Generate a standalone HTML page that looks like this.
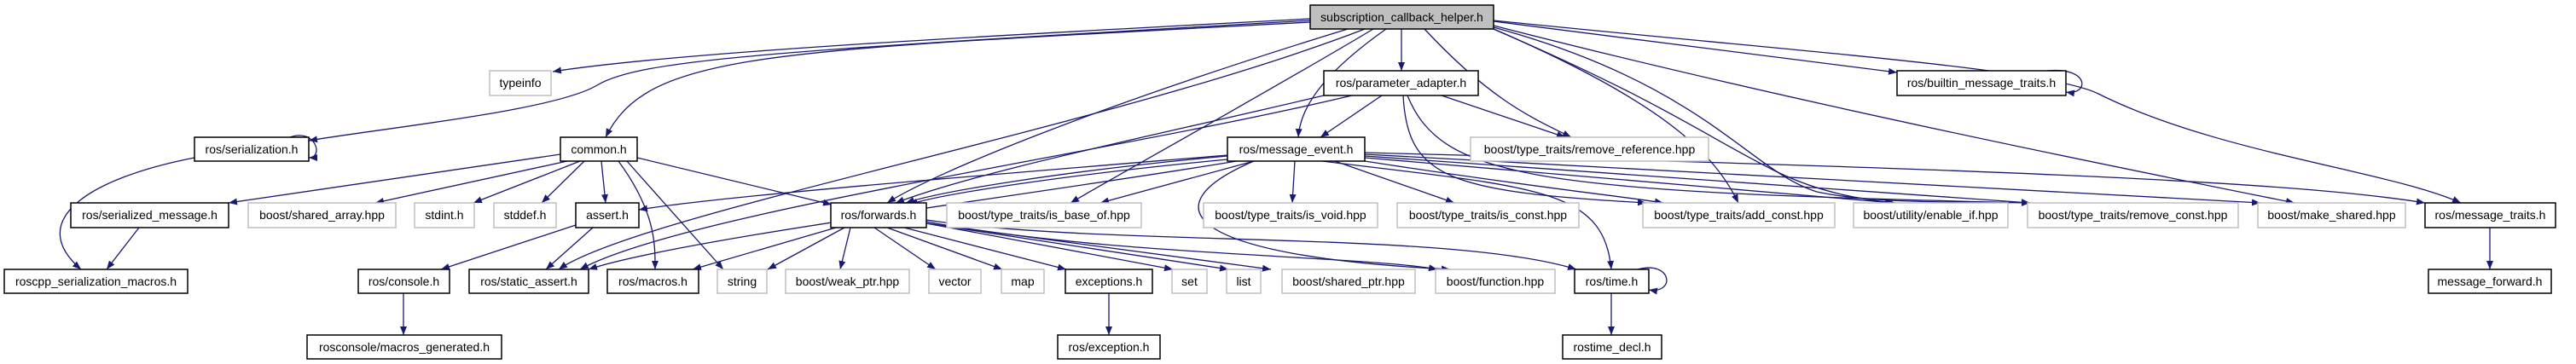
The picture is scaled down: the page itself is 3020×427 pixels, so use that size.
<!DOCTYPE html>
<html><head><meta charset="utf-8"><style>
html,body{margin:0;padding:0;background:#fff;}
svg{display:block;}
text{font-family:"Liberation Sans",sans-serif;font-size:14px;fill:#000;}
.e{fill:none;stroke:#191970;stroke-width:1.3;}
.n{fill:#fff;stroke:#000;stroke-width:1.5;}
.g{fill:#fff;stroke:#bfbfbf;stroke-width:1.5;}
</style></head><body>
<svg width="3020" height="427" viewBox="0 0 3020 427" xmlns="http://www.w3.org/2000/svg">
<defs><marker id="a" viewBox="0 0 10 10" refX="10" refY="5" markerWidth="10" markerHeight="10" markerUnits="userSpaceOnUse" orient="auto"><path d="M0,1 L10,5 L0,9 z" fill="#191970"/></marker></defs>
<g marker-end="url(#a)">
<!-- from S -->
<path class="e" d="M1536,22 C1200,40 800,60 648,84"/>
<path class="e" d="M1536,24 C900,60 750,70 700,100 C650,130 450,150 362,165"/>
<path class="e" d="M1536,26 C900,60 760,60 710,161"/>
<path class="e" d="M1580,34 C1300,120 1100,200 1040,238"/>
<path class="e" d="M1610,34 C1500,100 1320,200 1255,238"/>
<path class="e" d="M1600,34 C1300,150 750,250 655,316"/>
<path class="e" d="M1643,34 L1643,83"/>
<path class="e" d="M1625,34 C1560,80 1525,120 1522,161"/>
<path class="e" d="M1670,34 C1750,120 1800,140 1842,161"/>
<path class="e" d="M1751,25 C1950,50 2100,70 2224,85"/>
<path class="e" d="M1751,24 C2100,60 2400,80 2460,110 C2600,180 2800,200 2885,238"/>
<path class="e" d="M1751,30 C2100,120 2500,200 2690,238"/>
<path class="e" d="M1751,32 C2000,100 2050,200 2130,225 C2200,240 2300,236 2380,238"/>
<path class="e" d="M1751,34 C1950,120 2000,160 2080,200 C2140,230 2200,236 2222,238"/>
<path class="e" d="M1751,34 C1950,120 2010,180 2038,238"/>
<!-- PA -->
<path class="e" d="M1620,112 L1548,161"/>
<path class="e" d="M1552,112 C1350,160 1150,200 1050,238"/>
<path class="e" d="M1585,112 C1300,180 800,250 680,316"/>
<path class="e" d="M1690,112 L1835,161"/>
<path class="e" d="M1645,112 C1650,210 1700,225 1930,238"/>
<path class="e" d="M1650,112 C1690,210 1800,225 2380,238"/>
<!-- ME -->
<path class="e" d="M1439,183 C1250,200 1100,225 1062,238"/>
<path class="e" d="M1439,187 C1250,205 1100,228 1066,240"/>
<path class="e" d="M1439,182 C1100,210 850,230 749,246"/>
<path class="e" d="M1450,189 C1200,230 800,280 690,316"/>
<path class="e" d="M1470,189 L1290,238"/>
<path class="e" d="M1518,189 L1515,238"/>
<path class="e" d="M1565,189 L1705,238"/>
<path class="e" d="M1600,189 C1800,220 1900,230 1950,238"/>
<path class="e" d="M1600,185 L2220,238"/>
<path class="e" d="M1600,183 L2380,238"/>
<path class="e" d="M1600,181 L2650,238"/>
<path class="e" d="M1600,179 C2400,200 2700,215 2843,238"/>
<path class="e" d="M1470,189 C1350,240 1380,300 1700,316"/>
<path class="e" d="M1550,189 C1800,220 1880,220 1889,316"/>
<!-- common -->
<path class="e" d="M657,181 L268,238"/>
<path class="e" d="M665,189 L440,238"/>
<path class="e" d="M680,189 L555,238"/>
<path class="e" d="M685,189 L635,238"/>
<path class="e" d="M705,189 L710,238"/>
<path class="e" d="M747,185 L975,240"/>
<path class="e" d="M725,189 C770,250 768,290 768,316"/>
<path class="e" d="M735,189 L848,316"/>
<!-- serialization -->
<path class="e" d="M340,161 C370,150 380,185 362,185"/>
<path class="e" d="M228,185 C100,210 30,260 95,316"/>
<path class="e" d="M163,267 L125,316"/>
<path class="e" d="M675,264 L517,316"/>
<path class="e" d="M695,267 L640,316"/>
<path class="e" d="M473,344 L473,393"/>
<!-- forwards -->
<path class="e" d="M980,267 L812,316"/>
<path class="e" d="M990,267 L900,316"/>
<path class="e" d="M997,267 L985,316"/>
<path class="e" d="M1025,267 L1097,316"/>
<path class="e" d="M1040,267 L1175,316"/>
<path class="e" d="M1060,267 L1250,316"/>
<path class="e" d="M1086,262 L1375,316"/>
<path class="e" d="M1086,262 L1440,316"/>
<path class="e" d="M1086,262 L1490,316"/>
<path class="e" d="M1086,260 C1300,300 1600,300 1685,316"/>
<path class="e" d="M1086,258 C1300,290 1700,270 1848,316"/>
<path class="e" d="M1300,344 L1300,393"/>
<path class="e" d="M1889,344 L1889,393"/>
<path class="e" d="M1920,316 C1960,305 1965,345 1933,340"/>
<path class="e" d="M2400,83 C2450,78 2450,112 2422,108"/>
<path class="e" d="M2919,267 L2919,316"/>
</g>
<g>
<rect x="1536" y="6" width="215" height="28" fill="#bfbfbf" stroke="#000" stroke-width="1.5"/><text x="1643.5" y="25" text-anchor="middle">subscription_callback_helper.h</text>
<rect class="g" x="574" y="83" width="72" height="29"/><text x="610" y="102" text-anchor="middle">typeinfo</text>
<rect class="n" x="1552" y="83" width="181" height="29"/><text x="1642.5" y="102" text-anchor="middle">ros/parameter_adapter.h</text>
<rect class="n" x="2224" y="83" width="198" height="29"/><text x="2323" y="102" text-anchor="middle">ros/builtin_message_traits.h</text>
<rect class="n" x="228" y="161" width="134" height="28"/><text x="295" y="180" text-anchor="middle">ros/serialization.h</text>
<rect class="n" x="657" y="161" width="90" height="28"/><text x="702" y="180" text-anchor="middle">common.h</text>
<rect class="n" x="1439" y="161" width="161" height="28"/><text x="1519.5" y="180" text-anchor="middle">ros/message_event.h</text>
<rect class="g" x="1724" y="161" width="279" height="28"/><text x="1863.5" y="180" text-anchor="middle">boost/type_traits/remove_reference.hpp</text>
<rect class="n" x="83" y="238" width="185" height="29"/><text x="175.5" y="257" text-anchor="middle">ros/serialized_message.h</text>
<rect class="g" x="291" y="238" width="173" height="29"/><text x="377.5" y="257" text-anchor="middle">boost/shared_array.hpp</text>
<rect class="g" x="486" y="238" width="70" height="29"/><text x="521" y="257" text-anchor="middle">stdint.h</text>
<rect class="g" x="579" y="238" width="73" height="29"/><text x="615.5" y="257" text-anchor="middle">stddef.h</text>
<rect class="n" x="675" y="238" width="74" height="29"/><text x="712" y="257" text-anchor="middle">assert.h</text>
<rect class="n" x="974" y="238" width="112" height="29"/><text x="1030" y="257" text-anchor="middle">ros/forwards.h</text>
<rect class="g" x="1110" y="238" width="228" height="29"/><text x="1224" y="257" text-anchor="middle">boost/type_traits/is_base_of.hpp</text>
<rect class="g" x="1411" y="238" width="204" height="29"/><text x="1513" y="257" text-anchor="middle">boost/type_traits/is_void.hpp</text>
<rect class="g" x="1638" y="238" width="213" height="29"/><text x="1744.5" y="257" text-anchor="middle">boost/type_traits/is_const.hpp</text>
<rect class="g" x="1926" y="238" width="225" height="29"/><text x="2038.5" y="257" text-anchor="middle">boost/type_traits/add_const.hpp</text>
<rect class="g" x="2173" y="238" width="181" height="29"/><text x="2263.5" y="257" text-anchor="middle">boost/utility/enable_if.hpp</text>
<rect class="g" x="2377" y="238" width="247" height="29"/><text x="2500.5" y="257" text-anchor="middle">boost/type_traits/remove_const.hpp</text>
<rect class="g" x="2647" y="238" width="173" height="29"/><text x="2733.5" y="257" text-anchor="middle">boost/make_shared.hpp</text>
<rect class="n" x="2843" y="238" width="153" height="29"/><text x="2919.5" y="257" text-anchor="middle">ros/message_traits.h</text>
<rect class="n" x="5" y="316" width="215" height="28"/><text x="112.5" y="335" text-anchor="middle">roscpp_serialization_macros.h</text>
<rect class="n" x="420" y="316" width="107" height="28"/><text x="473.5" y="335" text-anchor="middle">ros/console.h</text>
<rect class="n" x="550" y="316" width="140" height="28"/><text x="620" y="335" text-anchor="middle">ros/static_assert.h</text>
<rect class="n" x="712" y="316" width="107" height="28"/><text x="765.5" y="335" text-anchor="middle">ros/macros.h</text>
<rect class="g" x="841" y="316" width="58" height="28"/><text x="870" y="335" text-anchor="middle">string</text>
<rect class="g" x="921" y="316" width="145" height="28"/><text x="993.5" y="335" text-anchor="middle">boost/weak_ptr.hpp</text>
<rect class="g" x="1089" y="316" width="61" height="28"/><text x="1119.5" y="335" text-anchor="middle">vector</text>
<rect class="g" x="1174" y="316" width="50" height="28"/><text x="1199" y="335" text-anchor="middle">map</text>
<rect class="n" x="1249" y="316" width="102" height="28"/><text x="1300" y="335" text-anchor="middle">exceptions.h</text>
<rect class="g" x="1374" y="316" width="41" height="28"/><text x="1394.5" y="335" text-anchor="middle">set</text>
<rect class="g" x="1438" y="316" width="40" height="28"/><text x="1458" y="335" text-anchor="middle">list</text>
<rect class="g" x="1503" y="316" width="156" height="28"/><text x="1581" y="335" text-anchor="middle">boost/shared_ptr.hpp</text>
<rect class="g" x="1683" y="316" width="140" height="28"/><text x="1753" y="335" text-anchor="middle">boost/function.hpp</text>
<rect class="n" x="1846" y="316" width="87" height="28"/><text x="1889.5" y="335" text-anchor="middle">ros/time.h</text>
<rect class="n" x="2847" y="316" width="144" height="28"/><text x="2919" y="335" text-anchor="middle">message_forward.h</text>
<rect class="n" x="360" y="393" width="228" height="28"/><text x="474" y="412" text-anchor="middle">rosconsole/macros_generated.h</text>
<rect class="n" x="1240" y="393" width="120" height="28"/><text x="1300" y="412" text-anchor="middle">ros/exception.h</text>
<rect class="n" x="1832" y="393" width="116" height="28"/><text x="1890" y="412" text-anchor="middle">rostime_decl.h</text>
</g>
</svg>
</body></html>
